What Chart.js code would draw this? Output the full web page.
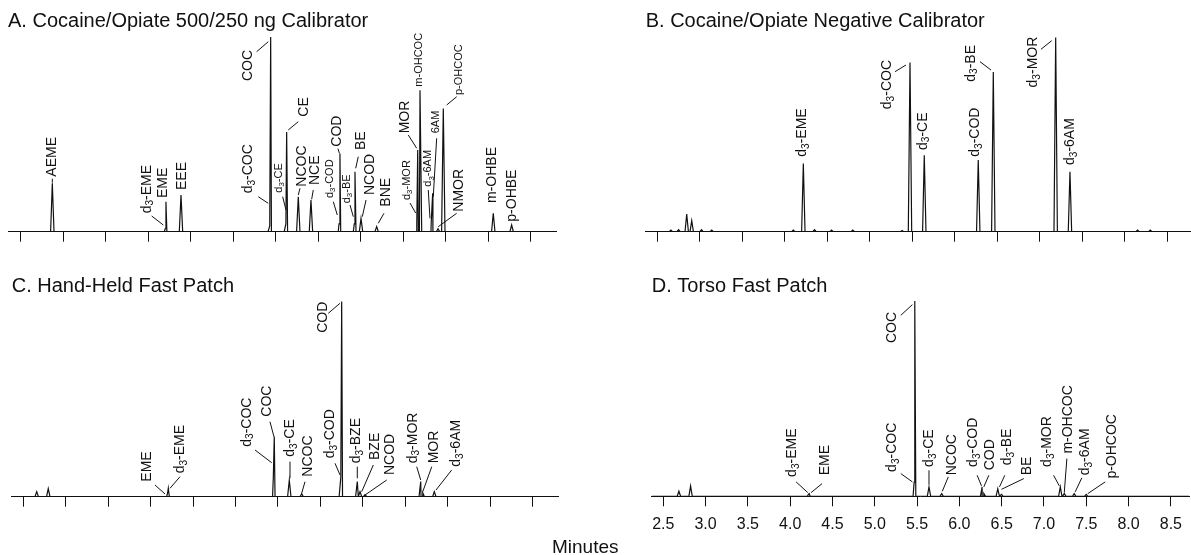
<!DOCTYPE html>
<html lang="en">
<head>
  <meta charset="UTF-8">
  <title>Cocaine/Opiate chromatograms</title>
  <script src="https://cdn.jsdelivr.net/npm/chart.js"></script>
  <style>
    * { margin: 0; padding: 0; box-sizing: border-box; }
    body {
      width: 1191px;
      height: 555px;
      background: #fff;
      position: relative;
      overflow: hidden;
      font-family: 'Liberation Sans', Arial, sans-serif;
    }
    canvas { position: absolute; }
    #chartA { left: 0; top: 0; }
    #chartB { left: 595px; top: 0; }
    #chartC { left: 0; top: 265px; }
    #chartD { left: 595px; top: 265px; }
    .xlabel {
      position: absolute;
      left: 552px;
      top: 537px;
      font-size: 19px;
      line-height: 19px;
      color: #111;
    }
  </style>
</head>
<body>
  <canvas id="chartA" width="595" height="265"></canvas>
  <canvas id="chartB" width="596" height="265"></canvas>
  <canvas id="chartC" width="595" height="290"></canvas>
  <canvas id="chartD" width="596" height="290"></canvas>
  <div class="xlabel">Minutes</div>

  <script>
    const FONT = "'Liberation Sans', Arial, sans-serif";

    // shared time axis (minutes)
    const tickValues = [2.5, 3.0, 3.5, 4.0, 4.5, 5.0, 5.5, 6.0, 6.5, 7.0, 7.5, 8.0, 8.5];
    const tickLabels = ['2.5', '3.0', '3.5', '4.0', '4.5', '5.0', '5.5', '6.0', '6.5', '7.0', '7.5', '8.0', '8.5'];

    // A. 500/250 ng calibrator
    const namesA = ['AEME', 'd3-EME', 'EME', 'EEE', 'd3-COC', 'COC', 'd3-CE', 'CE', 'NCOC', 'NCE', 'd3-COD', 'COD', 'd3-BE', 'BE', 'NCOD', 'BNE', 'd3-MOR', 'MOR', 'm-OHCOC', 'd3-6AM', '6AM', 'NMOR', 'p-OHCOC', 'm-OHBE', 'p-OHBE'];
    const timesA = [2.872, 4.200, 4.209, 4.386, 5.430, 5.441, 5.620, 5.629, 5.766, 5.915, 6.245, 6.256, 6.425, 6.433, 6.504, 6.688, 7.160, 7.171, 7.198, 7.330, 7.347, 7.410, 7.472, 8.060, 8.276];
    const heightsA = [24.8, 1.5, 15.3, 18.7, 3, 99.5, 4, 51, 17.9, 16.2, 4, 40, 4, 30.6, 6.8, 2.6, 4, 41.7, 72.3, 5, 19.6, 1.5, 63, 9.4, 3.4];

    // B. negative calibrator (internal standards only)
    const namesB = ['', '', '', '', '', '', '', 'd3-EME', '', '', '', '', 'd3-COC', 'd3-CE', 'd3-COD', 'd3-BE', 'd3-MOR', 'd3-6AM', '', ''];
    const timesB = [2.66, 2.75, 2.846, 2.905, 3.02, 3.14, 4.10, 4.218, 4.35, 4.55, 4.80, 5.38, 5.473, 5.641, 6.276, 6.453, 7.187, 7.355, 8.15, 8.30];
    const heightsB = [0.8, 1.0, 9.0, 5.6, 1.0, 0.8, 0.8, 34.9, 1.0, 0.8, 0.8, 0.6, 86.4, 39.1, 36.6, 81.6, 99.2, 30.6, 0.8, 0.8];

    // C. hand-held fast patch
    const namesC = ['', '', 'EME', 'd3-EME', 'd3-COC', 'COC', 'd3-CE', 'NCOC', 'd3-COD', 'COD', 'd3-BZE', 'BZE', 'NCOD', 'd3-MOR', 'MOR', 'd3-6AM'];
    const timesC = [2.658, 2.794, 4.200, 4.208, 5.445, 5.456, 5.633, 5.779, 6.240, 6.250, 6.434, 6.466, 6.525, 7.181, 7.205, 7.341];
    const heightsC = [2.6, 4.1, 2, 4.3, 10, 30.7, 8.5, 1.5, 10, 99.7, 7.7, 2.6, 1, 7.7, 2, 2.6];

    // D. torso fast patch
    const namesD = ['', '', 'd3-EME', 'EME', 'd3-COC', 'COC', 'd3-CE', 'NCOC', 'd3-COD', 'COD', 'd3-BE', 'BE', 'd3-MOR', 'm-OHCOC', 'd3-6AM', 'p-OHCOC'];
    const timesD = [2.685, 2.823, 4.215, 4.225, 5.465, 5.473, 5.641, 5.791, 6.269, 6.289, 6.454, 6.498, 7.193, 7.240, 7.357, 7.499];
    const heightsD = [2.6, 5.3, 1, 1.4, 7.2, 100, 4.8, 1.4, 4.8, 1.5, 3.9, 1, 4.8, 1.5, 1.4, 1];

    // label placement: [name, dx, dy, 's' text starts at anchor | 'e' text ends at anchor, small, leader]
    // offsets are pixels from the peak foot on the baseline
    const labelsA = [
      ['AEME', 0, -55, 's', 0, [0, -49, 0, -53]],
      ['d3-EME', -18.5, -18.4, 's', 0, [-13.5, -15.7, -1.9, -6.7]],
      ['EME', -2.7, -33.7, 's', 0, null],
      ['EEE', 1.3, -41.7, 's', 0, null],
      ['d3-COC', -21.5, -38.4, 's', 0, [-11.5, -35, -1.5, -28.4]],
      ['COC', -22.4, -181.7, 'e', 0, [-14, -180, -2.4, -190]],
      ['d3-CE', -6.9, -39, 's', 1, [-3.2, -35, 0.1, -21.7]],
      ['CE', 17.3, -115, 's', 0, [1.6, -101.7, 11.6, -110]],
      ['NCOC', 3.4, -45, 's', 0, [0, -36.7, 1.7, -43.4]],
      ['NCE', 4, -46.7, 's', 0, [0.7, -32.4, 2.3, -41.7]],
      ['d3-COD', -9, -33.7, 's', 1, [-5.7, -30, -1.7, -16.7]],
      ['COD', -2.7, -85, 's', 0, [-0.5, -78.4, -2, -83]],
      ['d3-BE', -7.6, -28.4, 's', 1, [-4.3, -26.7, -1, -15]],
      ['BE', 5.7, -81.7, 's', 0, [0.7, -63.4, 3.3, -75]],
      ['NCOD', 9, -36.7, 's', 0, [1.3, -15, 5, -31.7]],
      ['BNE', 9, -25, 's', 0, [1.6, -8.4, 7.3, -18.4]],
      ['d3-MOR', -10.1, -31.7, 's', 1, [-6.8, -28.7, -1.1, -18.7]],
      ['MOR', -12.7, -98.4, 's', 0, [-9.4, -96.7, -1, -83.4]],
      ['m-OHCOC', -1, -145, 's', 1, null],
      ['d3-6AM', -2.95, -45, 's', 1, [-2.95, -41.7, -1.25, -13.4]],
      ['6AM', 3, -98.4, 's', 1, [4, -93.4, 0.6, -35]],
      ['NMOR', 21.2, -20, 's', 0, [18.6, -18.4, 0.2, -5]],
      ['p-OHCOC', 16, -136.7, 's', 1, [3.4, -126.7, 13.4, -135]],
      ['m-OHBE', -1.6, -28.7, 's', 0, null],
      ['p-OHBE', 1, -10, 's', 0, null]
    ];
    const labelsB = [
      ['d3-EME', -1, -75, 's', 0, null],
      ['d3-COC', -22.7, -171.7, 'e', 0, [-15, -160, -4, -166.7]],
      ['d3-CE', -1.6, -81.7, 's', 0, null],
      ['d3-COD', -3.3, -75, 's', 0, null],
      ['d3-BE', -22.6, -186.7, 'e', 0, [-13.3, -170, -2.3, -161.7]],
      ['d3-MOR', -22.4, -195, 'e', 0, [-14.7, -182.4, -4, -191]],
      ['d3-6AM', 0, -66.7, 's', 0, null]
    ];
    const labelsC = [
      ['EME', -20.9, -15, 's', 0, [-12.6, -11.7, -2.6, -2.7]],
      ['d3-EME', 11.7, -23.4, 's', 0, [11.7, -20, 1.7, -8.4]],
      ['d3-COC', -26.6, -50, 's', 0, [-18.3, -46.7, -1.6, -34]],
      ['COC', -7, -80, 's', 0, [-4.3, -75, -0.3, -60]],
      ['d3-CE', 0.7, -40, 's', 0, [0.7, -35, 0.7, -18.4]],
      ['NCOC', 6.6, -20, 's', 0, [3.3, -15, 0, -3.4]],
      ['d3-COD', -10.8, -38.4, 's', 0, [-5.8, -33.4, -0.8, -21.7]],
      ['COD', -18.4, -195, 'e', 0, [-13.4, -183.4, -1.7, -193.4]],
      ['d3-BZE', -1.3, -33.4, 's', 0, [0, -30, 0, -18.4]],
      ['BZE', 15, -36.7, 's', 0, [13.3, -31.7, 1.7, -5]],
      ['NCOD', 25, -21.7, 's', 0, [21.7, -16.7, 0, -1.7]],
      ['d3-MOR', -8, -33.4, 's', 0, [-4, -30, 0, -16.7]],
      ['MOR', 11.3, -33.4, 's', 0, [9, -30, 0, -5]],
      ['d3-6AM', 21.7, -30, 's', 0, [17.4, -26.7, 1.7, -6.7]]
    ];
    const labelsD = [
      ['d3-EME', -16.2, -19.4, 's', 0, [-12.2, -14.4, -0.6, -3.7]],
      ['EME', 16.2, -21, 's', 0, [12.9, -12.7, 1.9, -3.7]],
      ['d3-COC', -22.3, -24.4, 's', 0, [-13.3, -22.7, -1.7, -14.4]],
      ['COC', -22.4, -184.4, 'e', 0, [-14, -181, -2.4, -191.7]],
      ['d3-CE', 0, -29.4, 's', 0, [0, -26, 0, -11.7]],
      ['NCOC', 10, -21, 's', 0, [6.6, -19.4, 0.6, -5]],
      ['d3-COD', -9.3, -29.4, 's', 0, [-5, -21, -0.6, -10.4]],
      ['COD', 6.7, -26, 's', 0, [5, -21, 0, -9.4]],
      ['d3-BE', 9.3, -31, 's', 0, [7, -21, 1.7, -9.4]],
      ['BE', 25.6, -21, 's', 0, [22.3, -17.7, 0, -7]],
      ['d3-MOR', -13.4, -29.4, 's', 0, [-6.7, -21, -1, -10.4]],
      ['m-OHCOC', 3.6, -42.7, 's', 0, [2.6, -37.7, 0, -3.7]],
      ['d3-6AM', 11, -21, 's', 0, [7.6, -18.4, 1, -4.4]],
      ['p-OHCOC', 25.6, -17.7, 's', 0, [19, -14.4, 1.6, -2.7]]
    ];

    const PEAK_HALF = 0.02; // half base width of a peak, minutes

    function trace(times, heights, xMin, xMax) {
      const pts = [{ x: xMin, y: 0 }, { x: xMax, y: 0 }];
      times.forEach((t, i) => {
        pts.push({ x: t - PEAK_HALF, y: 0 }, { x: t, y: heights[i] }, { x: t + PEAK_HALF, y: 0 });
      });
      return pts.sort((a, b) => a.x - b.x);
    }

    function drawName(ctx, text, x, y, align, size) {
      const parts = [];
      const m = text.match(/^d3(.*)$/);
      if (m) {
        parts.push([ 'd', size, 0 ], [ '3', size * 0.72, size * 0.28 ], [ m[1], size, 0 ]);
      } else {
        parts.push([ text, size, 0 ]);
      }
      ctx.save();
      ctx.translate(x, y);
      ctx.rotate(-Math.PI / 2);
      ctx.textBaseline = 'middle';
      ctx.textAlign = 'left';
      let w = 0;
      parts.forEach(p => { ctx.font = p[1] + 'px ' + FONT; w += ctx.measureText(p[0]).width; });
      let cx = align === 'e' ? -w : 0;
      parts.forEach(p => {
        ctx.font = p[1] + 'px ' + FONT;
        ctx.fillText(p[0], cx, p[2]);
        cx += ctx.measureText(p[0]).width;
      });
      ctx.restore();
    }

    function labelPlugin(names, times, labels) {
      return {
        id: 'peakLabels',
        afterDatasetsDraw(chart) {
          const { ctx, scales: { x, y } } = chart;
          const base = y.getPixelForValue(0);
          ctx.save();
          ctx.strokeStyle = '#111';
          ctx.fillStyle = '#111';
          ctx.lineWidth = 1;
          labels.forEach(([name, dx, dy, align, small, lead]) => {
            const px = x.getPixelForValue(times[names.indexOf(name)]);
            if (lead) {
              ctx.beginPath();
              ctx.moveTo(px + lead[0], base + lead[1]);
              ctx.lineTo(px + lead[2], base + lead[3]);
              ctx.stroke();
            }
            drawName(ctx, name, px + dx, base + dy, align, small ? 11 : 14);
          });
          ctx.restore();
        }
      };
    }

    function makePanel(id, title, names, times, heights, labels, xMin, xMax, pad, showTicks) {
      return new Chart(document.getElementById(id), {
        type: 'line',
        data: {
          datasets: [{
            data: trace(times, heights, xMin, xMax),
            borderColor: '#111',
            borderWidth: 1.2,
            pointRadius: 0,
            tension: 0,
            fill: false
          }]
        },
        options: {
          responsive: false,
          animation: false,
          devicePixelRatio: 1,
          layout: { padding: pad },
          plugins: {
            legend: { display: false },
            tooltip: { enabled: false },
            title: {
              display: true,
              text: title,
              align: 'start',
              color: '#111',
              font: { family: FONT, size: 20, weight: 'normal', lineHeight: 1.2 },
              padding: { top: 9.5, bottom: 2.5 }
            }
          },
          scales: {
            x: {
              type: 'linear',
              min: xMin,
              max: xMax,
              afterBuildTicks: s => { s.ticks = tickValues.map(v => ({ value: v })); },
              grid: { display: true, drawOnChartArea: false, drawTicks: true, tickLength: 10, color: '#111', lineWidth: 1 },
              border: { display: true, color: '#111', width: 1 },
              ticks: {
                display: showTicks,
                autoSkip: false,
                maxRotation: 0,
                padding: 9,
                color: '#111',
                font: { family: FONT, size: 16 },
                callback: (v, i) => tickLabels[i]
              }
            },
            y: { display: false, min: 0, max: 100 }
          }
        },
        plugins: [labelPlugin(names, times, labels)]
      });
    }

    makePanel('chartA', 'A. Cocaine/Opiate 500/250 ng Calibrator', namesA, timesA, heightsA, labelsA,
      2.3506, 8.798, { left: 8, right: 39, top: 0, bottom: 23.3 }, false);
    makePanel('chartB', 'B. Cocaine/Opiate Negative Calibrator', namesB, timesB, heightsB, labelsB,
      2.3635, 8.779, { left: 50.7, right: 0, top: 0, bottom: 23.3 }, false);
    makePanel('chartC', 'C. Hand-Held Fast Patch', namesC, timesC, heightsC, labelsC,
      2.3634, 8.798, { left: 11.7, right: 37, top: 0, bottom: 48.3 }, false);
    makePanel('chartD', 'D. Torso Fast Patch', namesD, timesD, heightsD, labelsD,
      2.3634, 8.7156, { left: 56.7, right: 0, top: 0, bottom: 11.5 }, true);
  </script>
</body>
</html>
